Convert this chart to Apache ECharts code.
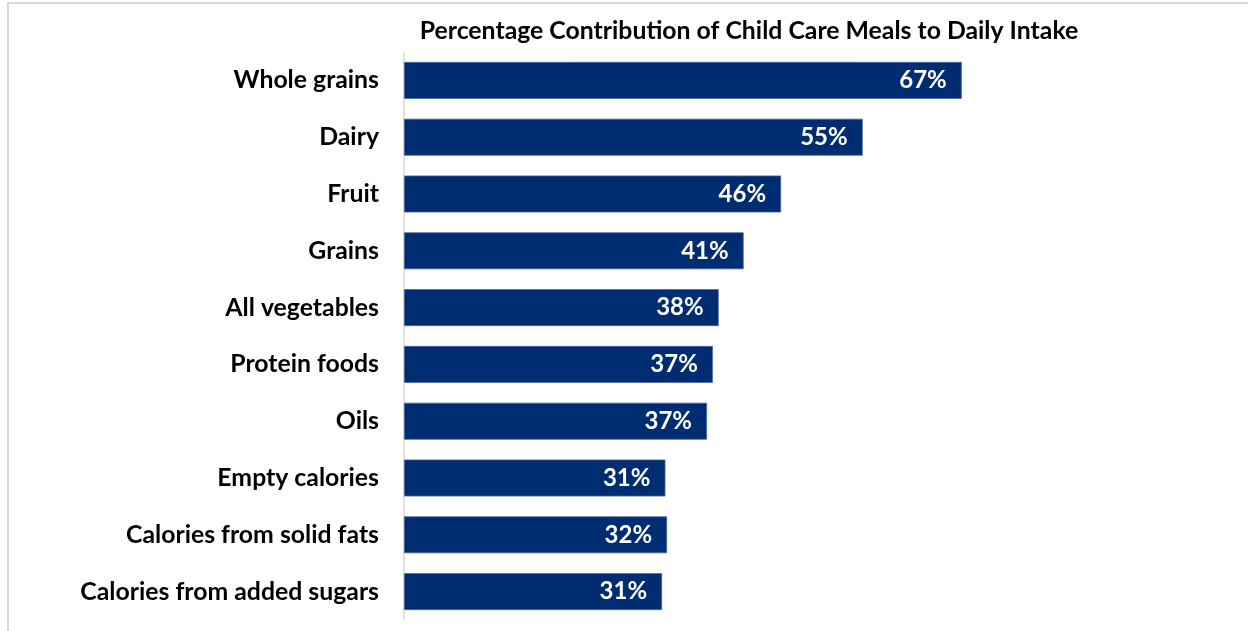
<!DOCTYPE html>
<html>
<head>
<meta charset="utf-8">
<script src="https://cdn.jsdelivr.net/npm/echarts@6/dist/echarts.min.js"></script>
<style>
html,body{margin:0;padding:0;background:#fff;}
#chart{width:1248px;height:631px;}
</style>
</head>
<body>
<div id="chart"></div>
<script>
const titleText = 'Percentage Contribution of Child Care Meals to Daily Intake';
const categories = ['Whole grains','Dairy','Fruit','Grains','All vegetables','Protein foods','Oils','Empty calories','Calories from solid fats','Calories from added sugars'];
const values = [67.0, 55.1, 45.3, 40.8, 37.8, 37.1, 36.4, 31.4, 31.6, 31.0];
const valueLabels = ['67%','55%','46%','41%','38%','37%','37%','31%','32%','31%'];

const chart = echarts.init(document.getElementById('chart'), null, {renderer:'canvas'});
const font = 'Lato, "Liberation Sans", sans-serif';
chart.setOption({
  animation:false,
  backgroundColor:'#fff',
  title:{
    text:titleText, left:744, top:14, textAlign:'center',
    textStyle:{fontFamily:font, fontWeight:'bold', fontSize:24.8, color:'#000'}
  },
  graphic:[
    {type:'line', shape:{x1:7,y1:3,x2:1248,y2:3}, style:{stroke:'#d9d9d9', lineWidth:2}, silent:true},
    {type:'line', shape:{x1:8,y1:3,x2:8,y2:631}, style:{stroke:'#d9d9d9', lineWidth:2}, silent:true}
  ],
  grid:{left:404, right:178, top:52, bottom:11, containLabel:false},
  xAxis:{
    type:'value', min:0, max:80, show:false
  },
  yAxis:{
    type:'category', data:categories, inverse:true,
    axisLine:{show:true, lineStyle:{color:'#d9d9d9', width:1.5}},
    axisTick:{show:false},
    axisLabel:{margin:25, fontFamily:font, fontWeight:'bold', fontSize:24.8, color:'#000'}
  },
  series:[{
    type:'bar',
    data:values,
    barWidth:'65%',
    itemStyle:{color:'#002C72', borderColor:'#4a64a0', borderWidth:0.8},
    label:{
      show:true, position:'insideRight', distance:15,
      fontFamily:font, fontWeight:'bold', fontSize:24, color:'#fff',
      formatter:p=>valueLabels[p.dataIndex]
    }
  }]
});
</script>
</body>
</html>
